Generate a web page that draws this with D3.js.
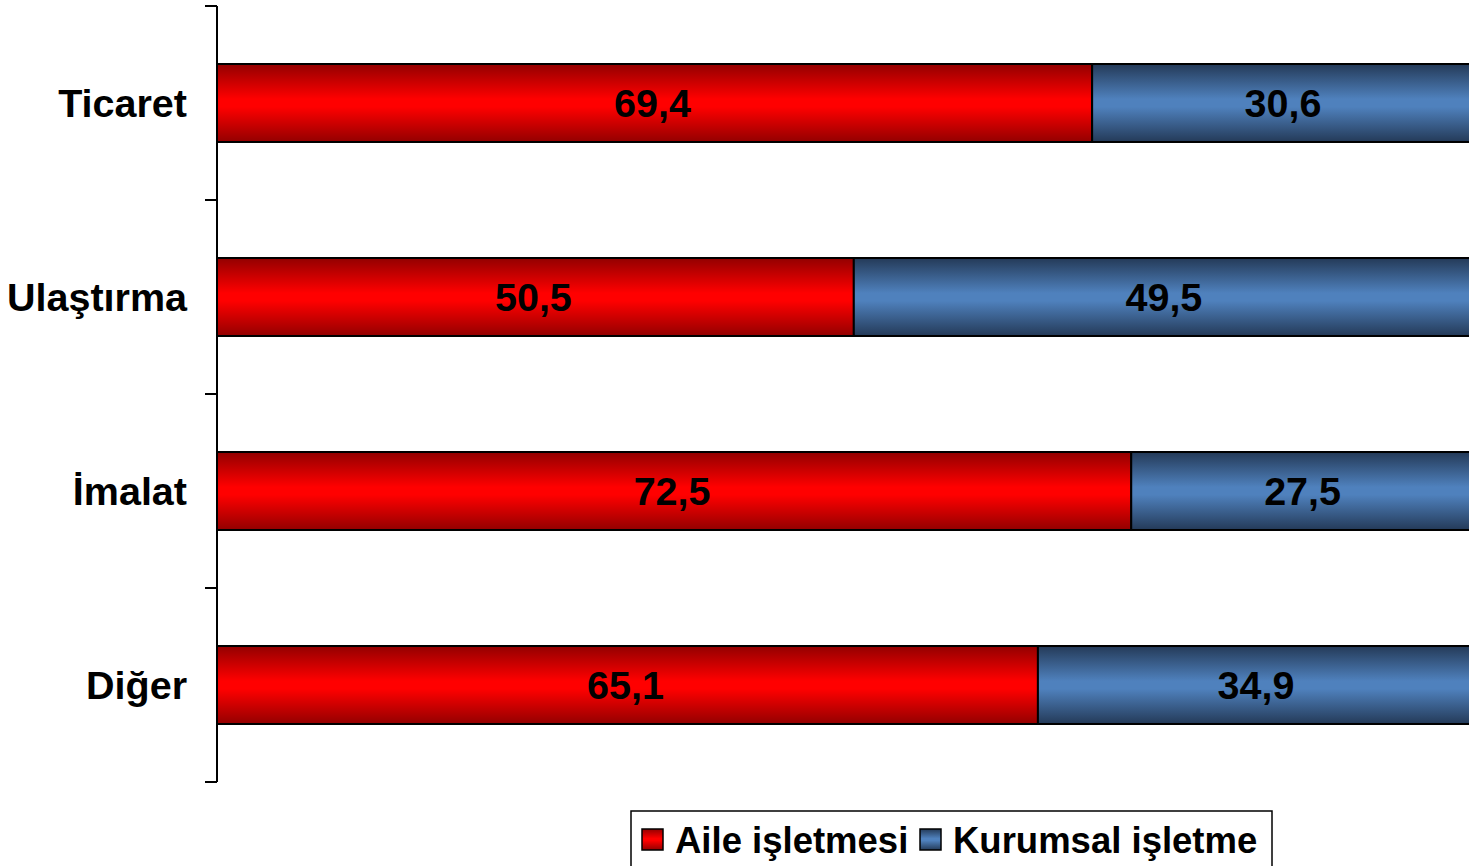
<!DOCTYPE html>
<html lang="tr">
  <head>
    <meta charset="utf-8">
    <script src="https://d3js.org/d3.v7.min.js"></script>
    <style>
      body { margin: 0; background: #fff; overflow: hidden; }
      text { font-family: "Liberation Sans", Arial, sans-serif; font-weight: bold; }
    </style>
  </head>
  <body>
  <script type="text/javascript">

    // Data
    var categories = ["Ticaret", "Ulaştırma", "İmalat", "Diğer"];
    var seriesNames = ["Aile işletmesi", "Kurumsal işletme"];
    var aile = [69.4, 50.5, 72.5, 65.1];
    var kurumsal = [30.6, 49.5, 27.5, 34.9];

    var width = 1469, height = 866;

    var svg = d3.select("body").append("svg")
      .attr("width", width)
      .attr("height", height);

    // gradients for the bars
    var defs = svg.append("defs");
    function addGradient(id, dark, light) {
      var g = defs.append("linearGradient")
        .attr("id", id)
        .attr("x1", 0).attr("y1", 0).attr("x2", 0).attr("y2", 1);
      g.append("stop").attr("offset", "0%").attr("stop-color", dark);
      g.append("stop").attr("offset", "45%").attr("stop-color", light);
      g.append("stop").attr("offset", "55%").attr("stop-color", light);
      g.append("stop").attr("offset", "100%").attr("stop-color", dark);
    }
    addGradient("gradRed", "#930000", "#ff0000");
    addGradient("gradBlue", "#243a58", "#4f81bd");
    var fills = ["url(#gradRed)", "url(#gradBlue)"];

    // scales
    var x = d3.scaleLinear().domain([0, 100]).range([217, 1478]);
    var y = d3.scaleBand()
      .domain(categories)
      .range([6, 782])
      .paddingInner(0.598)
      .paddingOuter(0.299);

    var fmt = d3.formatLocale({decimal: ",", thousands: ".", grouping: [3], currency: ["", ""]}).format(".1f");

    // stacked table
    var table = categories.map(function(c, i) {
      return {cat: c, Aile: aile[i], Kurumsal: kurumsal[i]};
    });
    var stack = d3.stack().keys(["Aile", "Kurumsal"])(table);

    var layers = svg.append("g").selectAll("g")
      .data(stack)
      .enter().append("g")
      .attr("fill", function(d, i) { return fills[i]; });

    layers.selectAll("rect")
      .data(function(d) { return d; })
      .enter().append("rect")
      .attr("x", function(d) { return x(d[0]); })
      .attr("y", function(d) { return y(d.data.cat); })
      .attr("width", function(d) { return x(d[1]) - x(d[0]); })
      .attr("height", y.bandwidth())
      .attr("stroke", "#000")
      .attr("stroke-width", 2);

    // value labels
    layers.selectAll("text")
      .data(function(d) { return d; })
      .enter().append("text")
      .attr("x", function(d) { return (x(d[0]) + x(d[1])) / 2 - 2; })
      .attr("y", function(d) { return y(d.data.cat) + y.bandwidth() / 2 + 14; })
      .attr("text-anchor", "middle")
      .attr("fill", "#000")
      .style("font-size", "39.5px")
      .text(function(d) { return fmt(d[1] - d[0]); });

    // axis line and ticks
    var axis = svg.append("g");
    axis.append("line")
      .attr("x1", 217).attr("x2", 217)
      .attr("y1", y.range()[0]).attr("y2", y.range()[1])
      .attr("stroke", "#000").attr("stroke-width", 2);

    var tickYs = [y.range()[0]].concat(categories.map(function(c) {
      return y(c) + y.bandwidth() + y.step() * y.paddingInner() / 2;
    }));
    tickYs[tickYs.length - 1] = y.range()[1];
    axis.selectAll(".tick")
      .data(tickYs)
      .enter().append("line")
      .attr("class", "tick")
      .attr("x1", 205).attr("x2", 217)
      .attr("y1", function(d) { return d; })
      .attr("y2", function(d) { return d; })
      .attr("stroke", "#000").attr("stroke-width", 2);

    // category labels
    axis.selectAll(".cat")
      .data(categories)
      .enter().append("text")
      .attr("class", "cat")
      .attr("x", 187)
      .attr("y", function(d) { return y(d) + y.bandwidth() / 2 + 14; })
      .attr("text-anchor", "end")
      .attr("fill", "#000")
      .style("font-size", "39.5px")
      .text(function(d) { return d; });

    // legend
    var legend = svg.append("g");
    legend.append("rect")
      .attr("x", 631).attr("y", 811)
      .attr("width", 641).attr("height", 80)
      .attr("fill", "#fff")
      .attr("stroke", "#000").attr("stroke-width", 1.5);

    var legendX = [642, 920];
    seriesNames.forEach(function(name, i) {
      legend.append("rect")
        .attr("x", legendX[i]).attr("y", 829)
        .attr("width", 21).attr("height", 21)
        .attr("fill", fills[i])
        .attr("stroke", "#000").attr("stroke-width", 1.5);
      legend.append("text")
        .attr("x", legendX[i] + 33)
        .attr("y", 853)
        .attr("fill", "#000")
        .style("font-size", "36.5px")
        .text(name);
    });

  </script>
  </body>
</html>
